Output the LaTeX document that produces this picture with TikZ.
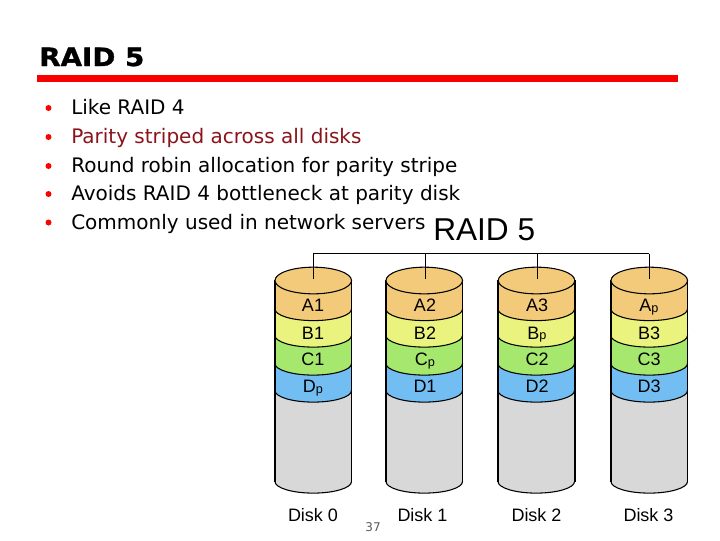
\documentclass[tikz,border=0pt]{standalone}
\usepackage{xcolor}
\usepackage{fontspec}
\setmainfont{DejaVu Sans}
\newfontfamily\figfont{Liberation Sans}
\newfontfamily\headfont[FakeStretch=1.1, FakeBold=1.2]{DejaVu Sans Bold}
\usetikzlibrary{
	positioning
}
\definecolor{DarkRed}{RGB}{139,20,28}
\definecolor{RuleRed}{RGB}{248,0,0}
\definecolor{BandA}{RGB}{243,202,122}
\definecolor{BandB}{RGB}{234,243,126}
\definecolor{BandC}{RGB}{166,232,110}
\definecolor{BandD}{RGB}{114,190,243}
\definecolor{BandE}{RGB}{216,216,216}
\newcommand{\parity}[1]{#1{\fontsize{9.5pt}{9.5pt}\selectfont\raisebox{-0.4pt}{p}}}
\tikzset{
	titletext/.style={anchor=base west, inner sep=0pt, font=\headfont\fontsize{18.9pt}{21pt}\selectfont},
	itemtext/.style={anchor=base west, inner sep=0pt, font=\fontsize{15pt}{18pt}\selectfont},
	itemdot/.style={circle, fill=red, inner sep=0pt, minimum size=4.5pt},
	bandtext/.style={anchor=base, inner sep=0pt, font=\figfont\fontsize{13.5pt}{15pt}\selectfont},
	disktext/.style={anchor=base, inner sep=0pt, font=\figfont\fontsize{13.5pt}{15pt}\selectfont},
	bandarc/.style={start angle=180, end angle=360, x radius=28.7pt, y radius=8.7pt},
	toparc/.style={x radius=28.7pt, y radius=10pt}
}

\begin{document}
\begin{tikzpicture}[x=0.75pt, y=-0.75pt]
		\useasboundingbox (0,0) rectangle (720,540);
		\fill[white] (0,0) rectangle (720,540);
		
		% 标题
		\node[titletext] (title) at (39,66) {RAID 5};
		\fill[RuleRed] (36.5,75) rectangle (677.5,81.5);
		
		% 列表
		\foreach \n/\y/\col/\txt in {
			1/114.5/black/Like RAID 4,
			2/143.5/DarkRed/Parity striped across all disks,
			3/172.5/black/Round robin allocation for parity stripe,
			4/200.5/black/Avoids RAID 4 bottleneck at parity disk,
			5/229/black/Commonly used in network servers}{
			\node[itemdot] (dot\n) at (48.5,\y-6.5) {};
			\node[itemtext, text=\col] (item\n) at (71,\y) {\txt};
		}
		
		% 图标题
		\node[anchor=base west, inner sep=0pt, font=\figfont\fontsize{23.7pt}{26pt}\selectfont] (figtitle) at (433,240) {RAID 5};
		
		% 磁盘
		\foreach \n/\xl/\xr/\xc/\xd/\a/\b/\c/\d in {
			0/275/351.5/313/313/A1/B1/C1/\parity{D},
			1/386/462.5/425/422.5/A2/B2/\parity{C}/D1,
			2/498/575/537/536.5/A3/\parity{B}/C2/D2,
			3/611/687.5/649/648.5/\parity{A}/B3/C3/D3}{
			% 色带
			\foreach \yb/\col in {481.5/BandE, 390.5/BandD, 363.5/BandC, 335.5/BandB, 309/BandA}{
				\fill[\col] (\xl,280) -- (\xl,\yb) arc[bandarc] -- (\xr,280) -- cycle;
				\draw[line width=0.8pt] (\xl,\yb) arc[bandarc];
			}
			% 外形
			\draw[line width=1.1pt] (\xl,280) -- (\xl,481.5);
			\draw[line width=1.1pt] (\xr,280) -- (\xr,481.5);
			\draw[line width=0.8pt, fill=BandA] ({(\xl+\xr)/2},280.5) ellipse[toparc];
			% 文字
			\node[bandtext] (a\n) at (\xc,311.5) {\a};
			\node[bandtext] (b\n) at (\xc,339) {\b};
			\node[bandtext] (c\n) at (\xc,365.5) {\c};
			\node[bandtext] (d\n) at (\xc,392.5) {\d};
			\node[disktext] (disk\n) at (\xd,521) {Disk \n};
			\coordinate (top\n) at (\xc,279);
			\coordinate (bus\n) at (\xc,253.5);
			\draw[line width=0.75pt] (bus\n) -- (top\n);
		}
		
		% 总线
		\draw[line width=0.75pt] (bus0) -- (bus3);
		
		% 页码
		\node[inner sep=0pt, text=black!65, font=\fontsize{9pt}{10pt}\selectfont] (page) at (373,527) {37};
	\end{tikzpicture}
\end{document}
